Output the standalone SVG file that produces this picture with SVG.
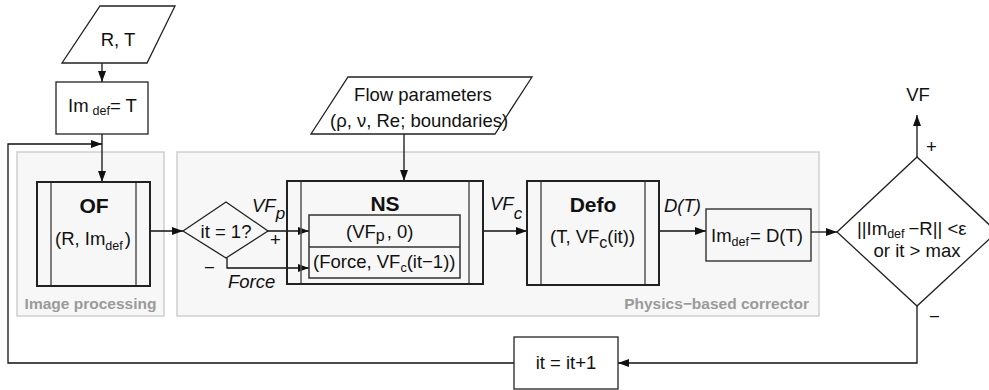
<svg xmlns="http://www.w3.org/2000/svg" width="989" height="390" viewBox="0 0 989 390">
<defs>
<marker id="arr" markerWidth="11" markerHeight="8" refX="11" refY="4" orient="auto" markerUnits="userSpaceOnUse">
<path d="M0,0 L11,4 L0,8 z" fill="#111"/>
</marker>
<style>
text{font-family:"Liberation Sans",Arial,sans-serif;fill:#111;font-size:18.5px}
.b{font-weight:bold;font-size:21px}
.i{font-style:italic}
.g{font-weight:bold;font-size:15.5px;fill:#9a9a9a}
.s{font-size:12.5px}
.grp{fill:#f7f7f7;stroke:#cfcfcf;stroke-width:1.5}
.box{fill:#fff;stroke:#222;stroke-width:1.3}
.pb{fill:none;stroke:#222;stroke-width:2}
.il{stroke:#555;stroke-width:1.5}
.c{fill:none;stroke:#111;stroke-width:1.3}
</style>
</defs>
<rect width="989" height="390" fill="#fff"/>

<g id="group-image-processing">
<rect class="grp" x="17" y="152" width="147" height="164"/>
<text class="g" x="90.5" y="309" text-anchor="middle">Image processing</text>
</g>
<g id="group-physics">
<rect class="grp" x="177" y="152" width="642" height="164"/>
<text class="g" x="809" y="309" text-anchor="end">Physics−based corrector</text>
</g>

<g id="connectors">
<line class="c" x1="102" y1="63" x2="102" y2="82" marker-end="url(#arr)"/>
<line class="c" x1="102" y1="134" x2="102" y2="182" marker-end="url(#arr)"/>
<line class="c" x1="150" y1="231" x2="183" y2="231" marker-end="url(#arr)"/>
<line class="c" x1="268" y1="231" x2="309" y2="231" marker-end="url(#arr)"/>
<polyline class="c" points="227,258 227,268 309,268" marker-end="url(#arr)"/>
<line class="c" x1="404" y1="134" x2="404" y2="181" marker-end="url(#arr)"/>
<line class="c" x1="483" y1="231" x2="527" y2="231" marker-end="url(#arr)"/>
<line class="c" x1="659" y1="231" x2="706" y2="231" marker-end="url(#arr)"/>
<line class="c" x1="811" y1="232" x2="837" y2="232" marker-end="url(#arr)"/>
<line class="c" x1="917" y1="157" x2="917" y2="115" marker-end="url(#arr)"/>
<polyline class="c" points="917,306 917,363 618,363" marker-end="url(#arr)"/>
<polyline class="c" points="514,363 8,363 8,144 102,144" marker-end="url(#arr)"/>
<text class="i" x="252" y="212">VF<tspan dy="7" font-size="17px">p</tspan></text>
<text x="270" y="246">+</text>
<text x="204" y="274">−</text>
<text class="i" x="228" y="288">Force</text>
<text class="i" x="490" y="210">VF<tspan dy="9" font-size="17px">c</tspan></text>
<text class="i" x="664" y="212">D(T)</text>
<text x="926" y="153">+</text>
<text x="929" y="323">−</text>
</g>

<g id="node-RT">
<polygon class="box" points="100,6 175,6 147,63 62,63"/>
<text x="118" y="46" text-anchor="middle">R, T</text>
</g>

<g id="node-imdef-T">
<rect class="box" x="56" y="82" width="92" height="52"/>
<text x="68" y="112">Im<tspan class="s" dx="4" dy="3">def</tspan><tspan dy="-3">= T</tspan></text>
</g>

<g id="node-OF">
<rect class="pb" x="37" y="182" width="113" height="104"/>
<line class="il" x1="51" y1="183" x2="51" y2="285"/>
<line class="il" x1="136" y1="183" x2="136" y2="285"/>
<text class="b" x="94" y="213" text-anchor="middle">OF</text>
<text x="55" y="245">(R, Im<tspan class="s" dy="5">def</tspan><tspan dx="2" dy="-5">)</tspan></text>
</g>

<g id="node-decision-it1">
<polygon fill="none" stroke="#222" stroke-width="1.3" points="183,231 226,202 268,231 226,258"/>
<text x="226" y="238" text-anchor="middle">it = 1?</text>
</g>

<g id="node-flow-params">
<polygon class="box" points="348,77 532,77 495,134 311,134"/>
<text x="423" y="101" text-anchor="middle">Flow parameters</text>
<text x="330" y="127">(ρ, ν, Re; boundaries)</text>
</g>

<g id="node-NS">
<rect class="pb" x="287" y="181" width="196" height="103"/>
<line class="il" x1="301" y1="182" x2="301" y2="283"/>
<line class="il" x1="469" y1="182" x2="469" y2="283"/>
<text class="b" x="385" y="211" text-anchor="middle">NS</text>
<rect fill="none" stroke="#333" stroke-width="1.5" x="309" y="215" width="151" height="63"/>
<line stroke="#333" stroke-width="1.5" x1="309" y1="247" x2="460" y2="247"/>
<text x="346" y="238">(VF<tspan font-size="16px" dy="3">p</tspan><tspan dx="2" dy="-3">, 0)</tspan></text>
<text x="313" y="268">(Force, VF<tspan class="s" dy="4">c</tspan><tspan dy="-4">(it−1))</tspan></text>
</g>

<g id="node-Defo">
<rect class="pb" x="527" y="181" width="132" height="104"/>
<line class="il" x1="541" y1="182" x2="541" y2="284"/>
<line class="il" x1="645" y1="182" x2="645" y2="284"/>
<text class="b" x="593" y="212" text-anchor="middle">Defo</text>
<text x="550" y="243">(T, VF<tspan font-size="16px" dy="5">c</tspan><tspan dy="-5">(it))</tspan></text>
</g>

<g id="node-imdef-DT">
<rect fill="none" stroke="#222" stroke-width="1.3" x="706" y="209" width="105" height="52"/>
<text x="711" y="242">Im<tspan class="s" dy="4">def</tspan><tspan dx="1" dy="-4">= D(T)</tspan></text>
</g>

<g id="node-decision-converge">
<polygon fill="#fff" stroke="#222" stroke-width="1.3" points="837,232 917,157 997,232 917,306"/>
<text x="857" y="235">||Im<tspan class="s" dy="3">def</tspan><tspan dx="4" dy="-3">−R|| &lt;ε</tspan></text>
<text x="917" y="257" text-anchor="middle">or it &gt; max</text>
</g>

<g id="node-VF">
<text x="918" y="101" text-anchor="middle" font-size="20px">VF</text>
</g>

<g id="node-increment">
<rect class="box" x="514" y="337" width="104" height="52"/>
<text x="566" y="369" text-anchor="middle">it = it+1</text>
</g>
</svg>
